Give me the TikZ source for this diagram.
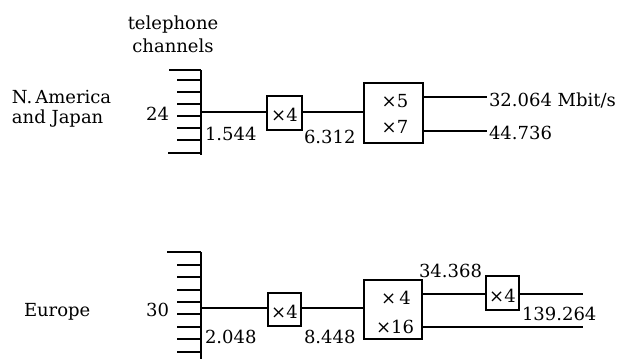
\documentclass[tikz,border=0pt]{standalone}
\usepackage{fontspec}
\setmainfont{DejaVu Serif}
\begin{document}
\begin{tikzpicture}[x=1pt,y=-1pt,
  font=\fontsize{18}{21}\selectfont,
  line width=1.5pt,
  txt/.style={inner sep=0pt, outer sep=0pt},
  box/.style={draw, inner sep=0pt, outer sep=0pt, line width=1.5pt, text depth=0pt}]
\useasboundingbox (0,0) rectangle (621,359);

% ---------- top: N. America and Japan ----------
\node[txt, anchor=base] (tel) at (173,29) {telephone};
\node[txt, anchor=base] (chan) at (173,52) {channels};
\node[txt, anchor=base west] (na1) at (12,103) {N.\,America};
\node[txt, anchor=base west] (na2) at (12,123) {and Japan};
\node[txt, anchor=base east] (n24) at (169,120) {24};

% comb
\draw (201,70) -- (201,155);
\draw (169,70) -- (201,70);
\draw (168,153) -- (201,153);
\foreach \yy in {80,92,104,116,128,140} \draw (177,\yy) -- (201,\yy);
\coordinate (ca) at (201,112);

\node[box, minimum width=35pt, minimum height=34pt] (ba1) at (284.5,113) {};
\node[txt, anchor=base] (ta1) at (284.5,121) {×4};
\node[box, minimum width=59pt, minimum height=60pt] (bb1) at (393.5,113) {};
\node[txt, anchor=base] (tb1) at (395,107) {×5};
\node[txt, anchor=base] (tb2) at (395,133) {×7};

\draw (ca) -- (ca -| ba1.west);
\draw (ba1.east |- ca) -- (bb1.west |- ca);
\coordinate (oa1) at (487,97);
\coordinate (oa2) at (487,131);
\draw (bb1.east |- oa1) -- (oa1);
\draw (bb1.east |- oa2) -- (oa2);

\node[txt, anchor=base west] (r1) at (205,140) {1.544};
\node[txt, anchor=base west] (r2) at (304,143) {6.312};
\node[txt, anchor=base west] (r3) at (489,106) {32.064 Mbit/s};
\node[txt, anchor=base west] (r4) at (489,139) {44.736};

% ---------- bottom: Europe ----------
\node[txt, anchor=base west] (eu) at (24,316) {Europe};
\node[txt, anchor=base east] (n30) at (169,316) {30};

\draw (201,252) -- (201,359);
\draw (167,252) -- (201,252);
\foreach \yy in {265,277,290,302,314,327,339,352} \draw (177,\yy) -- (201,\yy);
\coordinate (ce) at (201,308);

\node[box, minimum width=33pt, minimum height=33pt] (be1) at (284.5,309.5) {};
\node[txt, anchor=base] (te1) at (284.5,318) {×4};
\node[box, minimum width=58pt, minimum height=59pt] (be2) at (393,309.5) {};
\node[txt, anchor=base] (te2) at (396,304) {×\,4};
\node[txt, anchor=base] (te3) at (395,333) {×16};
\node[box, minimum width=33pt, minimum height=34pt] (be3) at (502.5,293) {};
\node[txt, anchor=base] (te4) at (502.5,302) {×4};

\draw (ce) -- (ce -| be1.west);
\draw (be1.east |- ce) -- (be2.west |- ce);
\coordinate (eo1) at (583,294);
\coordinate (eo2) at (583,327);
\draw (be2.east |- eo1) -- (be3.west |- eo1);
\draw (be3.east |- eo1) -- (eo1);
\draw (be2.east |- eo2) -- (eo2);

\node[txt, anchor=base west] (s1) at (205,343) {2.048};
\node[txt, anchor=base west] (s2) at (304,343) {8.448};
\node[txt, anchor=base east] (s3) at (482,277) {34.368};
\node[txt, anchor=base west] (s4) at (522,320) {139.264};
\end{tikzpicture}
\end{document}
